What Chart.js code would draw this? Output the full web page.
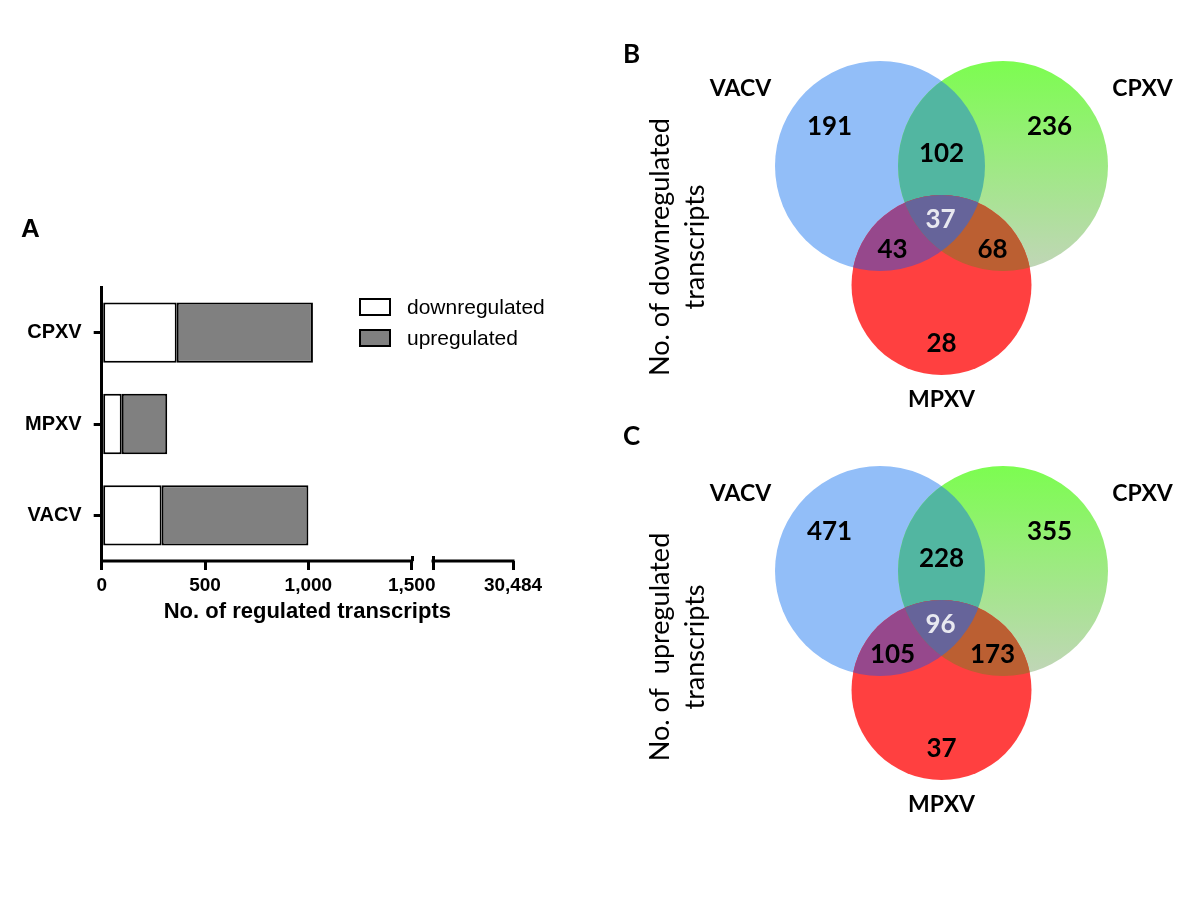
<!DOCTYPE html>
<html>
<head>
<meta charset="utf-8">
<title>Regulated transcripts</title>
<script src="https://cdn.jsdelivr.net/npm/chart.js@4.4.1/dist/chart.umd.min.js"></script>
<style>
  body { margin: 0; background: #fff; }
  #page { position: relative; width: 1200px; height: 900px; overflow: hidden; }
  canvas { position: absolute; }
</style>
</head>
<body>
<div id="page">
  <canvas id="barChart" width="600" height="640" style="left:0;top:0"></canvas>
  <canvas id="vennDown" width="600" height="454" style="left:600px;top:20px"></canvas>
  <canvas id="vennUp" width="600" height="454" style="left:600px;top:420px"></canvas>
</div>
<script>
// ----------- DATA -----------
// panel A: stacked bars
const categories = ['CPXV', 'MPXV', 'VACV'];
const downregulated = [363, 97, 290];
const upregulated = [659, 220, 710];
const xTickValues = [0, 500, 1000, 1500];
const axisEndLabel = '30,484';

// panels B and C: Venn region counts
const setNames = ['VACV', 'CPXV', 'MPXV'];
const regionNames = ['VACV only', 'CPXV only', 'MPXV only', 'VACV+CPXV', 'VACV+MPXV', 'CPXV+MPXV', 'all three'];
const downCounts = [191, 236, 28, 102, 43, 68, 37];
const upCounts = [471, 355, 37, 228, 105, 173, 96];

// ----------- LAYOUT -----------
// axis break (value units of the drawn x scale)
const breakStart = 1603;
const axisEnd = 1990;

// Venn geometry, in pixel-sized units around the diagram centre
const VENN = {
  circles: [{ x: -61.5, y: 0, r: 105 }, { x: 61.5, y: 0, r: 105 }, { x: 0, y: 119, r: 90 }],
  nameAt: [[-201, -78], [201, -78], [0, 233]],
  countAt: [[-112, -40], [108, -40], [0, 177], [0, -13], [-49, 83], [51, 83], [-1, 53]],
};

const BAR_FONT = '"Liberation Sans", Arial, sans-serif';
const VENN_FONT = 'Lato, "Open Sans", sans-serif';

Chart.defaults.color = '#000';

// ----------- PANEL A -----------
const brokenAxis = {
  id: 'brokenAxis',
  afterDraw(chart) {
    const { ctx, chartArea, scales: { x } } = chart;
    const y = chartArea.bottom;
    ctx.save();
    ctx.strokeStyle = '#000';
    ctx.lineWidth = 3;
    ctx.beginPath();
    ctx.moveTo(x.getPixelForValue(0) - 1.5, y);
    ctx.lineTo(x.getPixelForValue(1500) + 1.5, y);
    ctx.moveTo(x.getPixelForValue(breakStart) - 1.5, y);
    ctx.lineTo(x.getPixelForValue(axisEnd) + 1.5, y);
    [1500, breakStart].forEach(v => {
      const px = Math.round(x.getPixelForValue(v)) + 0.5;
      ctx.moveTo(px, y - 5);
      ctx.lineTo(px, y);
    });
    ctx.stroke();

    // panel letter
    ctx.fillStyle = '#000';
    ctx.font = 'bold 26px ' + BAR_FONT;
    ctx.textBaseline = 'alphabetic';
    ctx.fillText('A', 21, 237);
    ctx.restore();
  }
};

const barLegend = {
  id: 'barLegend',
  afterDraw(chart) {
    const ctx = chart.ctx;
    ctx.save();
    ctx.font = '21px ' + BAR_FONT;
    ctx.textBaseline = 'middle';
    chart.data.datasets.forEach((ds, i) => {
      const y = 307 + i * 31;
      ctx.fillStyle = ds.backgroundColor;
      ctx.fillRect(360, y - 8, 30, 16);
      ctx.strokeStyle = '#000';
      ctx.lineWidth = 2;
      ctx.strokeRect(360, y - 8, 30, 16);
      ctx.fillStyle = '#000';
      ctx.fillText(ds.label, 407, y + 1);
    });
    ctx.restore();
  }
};

new Chart(document.getElementById('barChart'), {
  type: 'bar',
  data: {
    labels: categories,
    datasets: [
      { label: 'downregulated', data: downregulated, backgroundColor: '#ffffff' },
      { label: 'upregulated', data: upregulated, backgroundColor: '#808080' },
    ],
  },
  options: {
    indexAxis: 'y',
    responsive: false,
    animation: false,
    devicePixelRatio: 1,
    events: [],
    layout: { autoPadding: false, padding: { left: 11.7, top: 287, right: 87, bottom: 11 } },
    datasets: {
      bar: {
        borderColor: '#000',
        borderWidth: 2,
        borderSkipped: false,
        categoryPercentage: 1,
        barPercentage: 0.66,
      },
    },
    scales: {
      x: {
        stacked: true,
        min: 0,
        max: axisEnd,
        afterBuildTicks: s => { s.ticks = [...xTickValues, breakStart, axisEnd].map(v => ({ value: v })); },
        afterFit: s => { s.height = 68; },
        ticks: {
          autoSkip: false,
          maxRotation: 0,
          padding: 4,
          color: '#000',
          font: { family: BAR_FONT, size: 19, weight: 'bold' },
          callback: v => v === axisEnd ? axisEndLabel : v === breakStart ? '' : v.toLocaleString('en-US'),
        },
        grid: { display: true, drawOnChartArea: false, drawTicks: true, tickLength: 9, color: '#000', lineWidth: 3 },
        border: { display: false },
        title: {
          display: true,
          text: 'No. of regulated transcripts',
          color: '#000',
          font: { family: BAR_FONT, size: 22, weight: 'bold' },
          padding: { top: 4, bottom: 4 },
        },
      },
      y: {
        stacked: true,
        afterFit: s => { s.width = 90; },
        ticks: { padding: 12, color: '#000', font: { family: BAR_FONT, size: 20, weight: 'bold' } },
        grid: { display: true, offset: false, drawOnChartArea: false, drawTicks: true, tickLength: 8, color: '#000', lineWidth: 3 },
        border: { display: true, color: '#000', width: 3 },
      },
    },
    plugins: { legend: { display: false }, tooltip: { enabled: false } },
  },
  plugins: [brokenAxis, barLegend],
});

// ----------- PANELS B & C -----------
// intersection layers are a circle clipped to the other circles
const vennClip = {
  id: 'vennClip',
  beforeDatasetDraw(chart, args) {
    const clipTo = chart.data.datasets[args.index].clipTo;
    if (!clipTo) return;
    const ctx = chart.ctx;
    ctx.save();
    clipTo.forEach(i => {
      const el = chart.getDatasetMeta(i).data[0];
      ctx.beginPath();
      ctx.arc(el.x, el.y, el.options.radius, 0, Math.PI * 2);
      ctx.clip();
    });
  },
  afterDatasetDraw(chart, args) {
    if (chart.data.datasets[args.index].clipTo) chart.ctx.restore();
  }
};

const vennLabels = {
  id: 'vennLabels',
  afterDatasetsDraw(chart, args, opts) {
    const { ctx, scales: { x, y } } = chart;
    ctx.save();
    ctx.textAlign = 'center';
    ctx.textBaseline = 'alphabetic';
    ctx.fillStyle = '#000';

    ctx.font = 'bold 23px ' + VENN_FONT;
    setNames.forEach((name, i) => {
      const [vx, vy] = VENN.nameAt[i];
      ctx.fillText(name, x.getPixelForValue(vx), y.getPixelForValue(vy) + 0.358 * 23);
    });

    ctx.font = 'bold 26px ' + VENN_FONT;
    opts.counts.forEach((n, i) => {
      const [vx, vy] = VENN.countAt[i];
      ctx.fillStyle = i === opts.counts.length - 1 ? '#e8e8f0' : '#000';
      ctx.fillText(String(n), x.getPixelForValue(vx), y.getPixelForValue(vy) + 0.358 * 26);
    });

    ctx.fillStyle = '#000';
    ctx.textAlign = 'left';
    ctx.font = 'bold 26px ' + VENN_FONT;
    ctx.fillText(opts.letter, 23, opts.letterY);
    ctx.restore();
  }
};

function greenFill(context) {
  const chart = context.chart;
  const ys = chart.scales.y;
  const c = VENN.circles[1];
  const top = ys ? ys.getPixelForValue(c.y - c.r) : NaN;
  const bottom = ys ? ys.getPixelForValue(c.y + c.r) : NaN;
  if (!isFinite(top) || !isFinite(bottom) || top === bottom) return '#a0e890';
  const g = chart.ctx.createLinearGradient(0, top, 0, bottom);
  g.addColorStop(0, '#7cfd50');
  g.addColorStop(1, '#c1d5b8');
  return g;
}

const layers = [
  { label: 'VACV', circle: 0, color: '#92bef8' },
  { label: 'CPXV', circle: 1, color: greenFill },
  { label: 'VACV & CPXV', circle: 1, color: '#52b6a1', clipTo: [0] },
  { label: 'MPXV', circle: 2, color: '#ff4040' },
  { label: 'VACV & MPXV', circle: 2, color: '#96488c', clipTo: [0] },
  { label: 'CPXV & MPXV', circle: 2, color: '#bb5f32', clipTo: [1] },
  { label: 'all three', circle: 2, color: '#66649a', clipTo: [0, 1] },
];

function drawVenn(canvasId, counts, titleLines, letter, letterY, originY) {
  const canvas = document.getElementById(canvasId);
  const areaLeft = 38.5 + 78, originX = 341.5;
  return new Chart(canvas, {
    type: 'bubble',
    data: {
      datasets: layers.map((l, i) => {
        const c = VENN.circles[l.circle];
        return {
          label: l.label,
          data: [{ x: c.x, y: c.y, r: c.r }],
          backgroundColor: l.color,
          borderWidth: 0,
          borderColor: 'transparent',
          clip: false,
          order: 10 - i,
          clipTo: l.clipTo,
        };
      }),
    },
    options: {
      responsive: false,
      animation: false,
      devicePixelRatio: 1,
      events: [],
      layout: { autoPadding: false, padding: { left: 38.5, top: 0, right: 0, bottom: 0 } },
      scales: {
        x: { display: false, min: areaLeft - originX, max: canvas.width - originX },
        y: {
          reverse: true,
          min: -originY,
          max: canvas.height - originY,
          afterFit: s => { s.width = 78; },
          ticks: { display: false },
          grid: { display: false, drawTicks: false },
          border: { display: false },
          title: {
            display: true,
            text: titleLines,
            color: '#000',
            font: { family: VENN_FONT, size: 27, weight: 'normal', lineHeight: '35px' },
            padding: { top: 4, bottom: 4 },
          },
        },
      },
      plugins: {
        legend: { display: false },
        tooltip: { enabled: false },
        vennLabels: { counts, letter, letterY },
      },
    },
    plugins: [vennClip, vennLabels],
  });
}

drawVenn('vennDown', downCounts, ['No. of downregulated', 'transcripts'], 'B', 43, 146);
drawVenn('vennUp', upCounts, ['No. of  upregulated', 'transcripts'], 'C', 25, 151);
</script>
</body>
</html>
